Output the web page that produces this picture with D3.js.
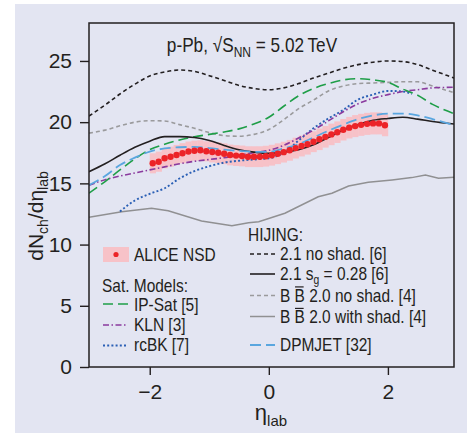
<!DOCTYPE html>
<html>
<meta charset="utf-8">
<script src="https://d3js.org/d3.v7.min.js"></script>
<style>
  body { margin: 0; background: #fff; }
  svg text { font-family: "Liberation Sans", Arial, sans-serif; fill: #231f20; }
</style>
<body>
<div id="chart"></div>
<script>

var etaGrid = [-3.02, -2.75, -2.5, -2.25, -2, -1.75, -1.5, -1.25, -1, -0.75, -0.5, -0.25, 0,
               0.25, 0.5, 0.75, 1, 1.25, 1.5, 1.75, 2, 2.25, 2.5, 2.75, 3.11];

var hijingNoShad = [20.5, 21.4, 22.3, 23.1, 23.77, 24.1, 24.26, 24.15, 23.8, 23.4, 23.0, 22.75, 22.65,
                    22.8, 23.15, 23.6, 24.0, 24.4, 24.7, 24.9, 25.0, 24.95, 24.7, 24.25, 23.6];
var hijingSg     = [15.95, 16.6, 17.3, 17.95, 18.45, 18.82, 18.82, 18.75, 18.5, 18.1, 17.75, 17.55, 17.45,
                    17.55, 17.75, 18.15, 18.75, 19.35, 19.8, 20.15, 20.3, 20.4, 20.25, 20.05, 19.85];
var bbNoShad     = [19.1, 19.35, 19.7, 20.0, 20.12, 20.1, 19.8, 19.5, 19.15, 18.9, 18.85, 19.0, 19.4,
                    20.2, 21.1, 21.8, 22.55, 22.95, 23.15, 23.2, 23.25, 23.3, 23.3, 22.95, 22.4];
var ipSat        = [14.2, 15.15, 16.1, 17.0, 17.75, 18.2, 18.55, 18.8, 19.0, 19.2, 19.45, 19.85, 20.4,
                    21.3, 22.15, 22.75, 23.15, 23.45, 23.55, 23.45, 23.25, 22.7, 22.2, 21.45, 20.7];
var kln          = [14.85, 15.3, 15.6, 15.85, 16.1, 16.35, 16.6, 16.8, 16.95, 17.1, 17.3, 17.5, 17.7,
                    18.1, 18.7, 19.35, 20.1, 20.85, 21.5, 21.95, 22.25, 22.5, 22.65, 22.8, 22.85];
var dpmjet       = [14.85, 15.6, 16.5, 17.1, 17.6, 17.85, 17.95, 17.98, 17.88, 17.75, 17.65, 17.58, 17.58,
                    17.85, 18.2, 18.75, 19.3, 19.8, 20.25, 20.55, 20.7, 20.7, 20.55, 20.25, 19.75];

var rcbkEta = [-2.5, -2.25, -2, -1.75, -1.5, -1.25, -1, -0.75, -0.5, -0.25, 0, 0.25, 0.5, 0.75,
               1, 1.25, 1.5, 1.75, 2, 2.25, 2.4];
var rcbk    = [12.7, 13.6, 14.15, 14.6, 15.4, 16.0, 16.4, 16.7, 16.85, 16.95, 17.05, 17.5, 18.5, 19.5,
               20.3, 21.0, 21.85, 22.25, 22.55, 22.5, 22.3];

var bbShadEta = [-3.02, -2.47, -1.97, -1.69, -1.13, -0.62, -0.34, -0.17, 0.27, 0.83, 1.06, 1.34,
                 1.67, 2.07, 2.4, 2.63, 2.85, 3.11];
var bbShad    = [12.23, 12.69, 12.96, 12.77, 11.93, 11.54, 11.79, 11.87, 12.56, 13.91, 14.19, 14.79,
                 15.09, 15.28, 15.47, 15.69, 15.42, 15.5];

// ALICE NSD points
var aliceEta = [-1.95, -1.85, -1.75, -1.65, -1.55, -1.45, -1.35, -1.25, -1.15, -1.05,
                -0.95, -0.85, -0.75, -0.65, -0.55, -0.45, -0.35, -0.25, -0.15, -0.05,
                0.05, 0.15, 0.25, 0.35, 0.45, 0.55, 0.65, 0.75, 0.85, 0.95,
                1.05, 1.15, 1.25, 1.35, 1.45, 1.55, 1.65, 1.75, 1.85, 1.95];
var alice    = [16.64, 16.77, 17.05, 17.18, 17.32, 17.46, 17.6, 17.67, 17.7, 17.62,
                17.56, 17.5, 17.42, 17.32, 17.27, 17.24, 17.18, 17.18, 17.18, 17.22,
                17.3, 17.42, 17.55, 17.7, 17.88, 18.05, 18.2, 18.4, 18.6, 18.8,
                19.0, 19.18, 19.38, 19.55, 19.68, 19.78, 19.86, 19.9, 19.9, 19.75];
var aliceErr = [0.82, 0.82, 0.82, 0.82, 0.82, 0.82, 0.82, 0.82, 0.82, 0.82,
                0.85, 0.85, 0.85, 0.85, 0.85, 0.85, 0.85, 0.85, 0.85, 0.85,
                0.85, 0.85, 0.85, 0.85, 0.85, 0.85, 0.85, 0.85, 0.88, 0.88,
                0.88, 0.88, 0.88, 0.88, 0.9, 0.9, 0.9, 0.9, 0.9, 0.9];

var yTicks = [0, 5, 10, 15, 20, 25];
var xTicks = [-2, 0, 2];

var W = 471, H = 436;
var svg = d3.select("#chart").append("svg")
    .attr("width", W).attr("height", H);

// lavender panel
svg.append("rect")
    .attr("x", 15).attr("y", 4).attr("width", 452).attr("height", 429)
    .attr("fill", "#e3e5f2");

var x = d3.scaleLinear().domain([-3.02, 3.11]).range([89, 454]);
var y = d3.scaleLinear().domain([0, 28.1]).range([367, 23]);

svg.append("clipPath").attr("id", "clip")
  .append("rect")
    .attr("x", 89).attr("y", 23).attr("width", 365).attr("height", 344);

// axes
var yAxis = svg.append("g")
    .attr("transform", "translate(89,0)")
    .call(d3.axisLeft(y).tickValues(yTicks).tickSize(9).tickPadding(8).tickFormat(d3.format("d")));
var xAxis = svg.append("g")
    .attr("transform", "translate(0,367)")
    .call(d3.axisBottom(x).tickValues(xTicks).tickSize(8).tickPadding(9).tickFormat(d3.format("d")));

[yAxis, xAxis].forEach(function(g) {
  g.select(".domain").remove();
  g.selectAll(".tick line").attr("stroke", "#231f20").attr("stroke-width", 1.4);
  g.selectAll(".tick text").attr("fill", "#231f20").style("font-size", "21px")
    .style("font-family", "\"Liberation Sans\", Arial, sans-serif");
});

// data band + curves
var plot = svg.append("g").attr("clip-path", "url(#clip)");

plot.selectAll("rect.band")
  .data(alice)
  .enter().append("rect")
    .attr("class", "band")
    .attr("x", function(d, i) { return x(aliceEta[i] - 0.05); })
    .attr("width", function(d, i) { return x(aliceEta[i] + 0.05) - x(aliceEta[i] - 0.05) + 0.3; })
    .attr("y", function(d, i) { return y(d + aliceErr[i]); })
    .attr("height", function(d, i) { return y(d - aliceErr[i]) - y(d + aliceErr[i]); })
    .attr("fill", "#f7c2c8");

var smooth = d3.line()
    .x(function(d) { return x(d[0]); })
    .y(function(d) { return y(d[1]); })
    .curve(d3.curveMonotoneX);
var jagged = d3.line()
    .x(function(d) { return x(d[0]); })
    .y(function(d) { return y(d[1]); });

function pairs(xs, ys) { return xs.map(function(v, i) { return [v, ys[i]]; }); }

var styles = {
  hijingNoShad: {color: "#231f20", dash: "4,3", w: 1.6},
  hijingSg:     {color: "#231f20", dash: null, w: 1.6},
  bbNoShad:     {color: "#9a9a9c", dash: "4,3", w: 1.6},
  bbShad:       {color: "#909092", dash: null, w: 1.5},
  ipSat:        {color: "#1f9e48", dash: "10,5", w: 1.6},
  kln:          {color: "#8a3a9e", dash: "6,2.5,1.5,2.5", w: 1.6},
  rcbk:         {color: "#2a5fb5", dash: "2,2.2", w: 1.9},
  dpmjet:       {color: "#5aa6df", dash: "11,5", w: 1.8}
};

var curves = [
  ["bbShad", jagged(pairs(bbShadEta, bbShad))],
  ["bbNoShad", smooth(pairs(etaGrid, bbNoShad))],
  ["hijingNoShad", smooth(pairs(etaGrid, hijingNoShad))],
  ["rcbk", smooth(pairs(rcbkEta, rcbk))],
  ["kln", smooth(pairs(etaGrid, kln))],
  ["ipSat", smooth(pairs(etaGrid, ipSat))],
  ["hijingSg", smooth(pairs(etaGrid, hijingSg))],
  ["dpmjet", smooth(pairs(etaGrid, dpmjet))]
];

curves.forEach(function(c) {
  var s = styles[c[0]];
  plot.append("path")
      .attr("d", c[1])
      .attr("fill", "none")
      .attr("stroke", s.color)
      .attr("stroke-width", s.w)
      .attr("stroke-dasharray", s.dash);
});

plot.selectAll("circle.alice")
  .data(alice)
  .enter().append("circle")
    .attr("class", "alice")
    .attr("cx", function(d, i) { return x(aliceEta[i]); })
    .attr("cy", function(d) { return y(d); })
    .attr("r", 3.2)
    .attr("fill", "#ec2327");

// frame
svg.append("rect")
    .attr("x", 89).attr("y", 23).attr("width", 365).attr("height", 344)
    .attr("fill", "none").attr("stroke", "#231f20").attr("stroke-width", 1.5);

// no narrow face is installed, so squeeze text horizontally
function narrowText(parent, tx, ty, size, sx) {
  var g = parent.append("g")
      .attr("transform", "translate(" + tx + "," + ty + ") scale(" + sx + ",1)");
  var t = g.append("text").style("font-size", size + "px");
  return t;
}

// title
var title = narrowText(svg, 252, 52, 20, 0.86).attr("text-anchor", "middle");
title.append("tspan").text("p-Pb, \u221AS");
title.append("tspan").attr("dy", 5).style("font-size", "14px").text("NN");
title.append("tspan").attr("dy", -5).text(" = 5.02\u2009TeV");

// axis labels
var yl = svg.append("text")
    .attr("transform", "translate(43,216) rotate(-90)")
    .attr("text-anchor", "middle")
    .style("font-size", "21px");
yl.append("tspan").text("dN");
yl.append("tspan").attr("dy", 5).style("font-size", "14px").text("ch");
yl.append("tspan").attr("dy", -5).text("/d\u03B7");
yl.append("tspan").attr("dy", 5).style("font-size", "14px").text("lab");

var xl = svg.append("text")
    .attr("x", 271).attr("y", 420)
    .attr("text-anchor", "middle")
    .style("font-size", "22px");
xl.append("tspan").text("\u03B7");
xl.append("tspan").attr("dy", 6).style("font-size", "15px").text("lab");

// legend
var leg = svg.append("g");
var LS = 18, SX = 0.86;

leg.append("rect").attr("x", 103).attr("y", 247).attr("width", 26).attr("height", 15).attr("fill", "#f7c2c8");
leg.append("circle").attr("cx", 116).attr("cy", 254.5).attr("r", 2.6).attr("fill", "#ec2327");
narrowText(leg, 134, 261, LS, SX).text("ALICE NSD");

narrowText(leg, 102, 291.5, LS, SX).text("Sat. Models:");
narrowText(leg, 248, 240.5, LS, SX).text("HIJING:");

var leftRows = [
  {key: "ipSat", label: "IP-Sat [5]", ly: 304, ty: 310.5},
  {key: "kln", label: "KLN [3]", ly: 325, ty: 331},
  {key: "rcbk", label: "rcBK [7]", ly: 345.5, ty: 351}
];
var rightRows = [
  {key: "hijingNoShad", label: "2.1 no shad. [6]", ly: 254, ty: 259.5},
  {key: "hijingSg", label: "2.1 s|g| = 0.28 [6]", ly: 274, ty: 280},
  {key: "bbNoShad", label: "B B 2.0 no shad. [4]", ly: 295.5, ty: 301.5, bar: true},
  {key: "bbShad", label: "B B 2.0 with shad. [4]", ly: 316.5, ty: 323, bar: true},
  {key: "dpmjet", label: "DPMJET [32]", ly: 345, ty: 351}
];

function legendRow(r, x0, x1, tx) {
  var s = styles[r.key];
  leg.append("line")
      .attr("x1", x0).attr("x2", x1).attr("y1", r.ly).attr("y2", r.ly)
      .attr("stroke", s.color).attr("stroke-width", s.w)
      .attr("stroke-dasharray", s.dash);
  var t = narrowText(leg, tx, r.ty, LS, SX);
  var parts = r.label.split("|");
  if (parts.length === 3) {
    t.append("tspan").text(parts[0]);
    t.append("tspan").attr("dy", 4).style("font-size", "12px").text(parts[1]);
    t.append("tspan").attr("dy", -4).text(parts[2]);
  } else {
    t.text(r.label);
  }
  if (r.bar) {
    // overline on the second B
    var b = t.node().getExtentOfChar(2);
    d3.select(t.node().parentNode).append("line")
        .attr("x1", b.x + 0.5).attr("x2", b.x + b.width - 1.5)
        .attr("y1", b.y + 1.5).attr("y2", b.y + 1.5)
        .attr("stroke", "#231f20").attr("stroke-width", 1.2);
  }
}
leftRows.forEach(function(r) { legendRow(r, 103, 128, 134); });
rightRows.forEach(function(r) { legendRow(r, 250, 275, 280); });

</script>
</body>
</html>
